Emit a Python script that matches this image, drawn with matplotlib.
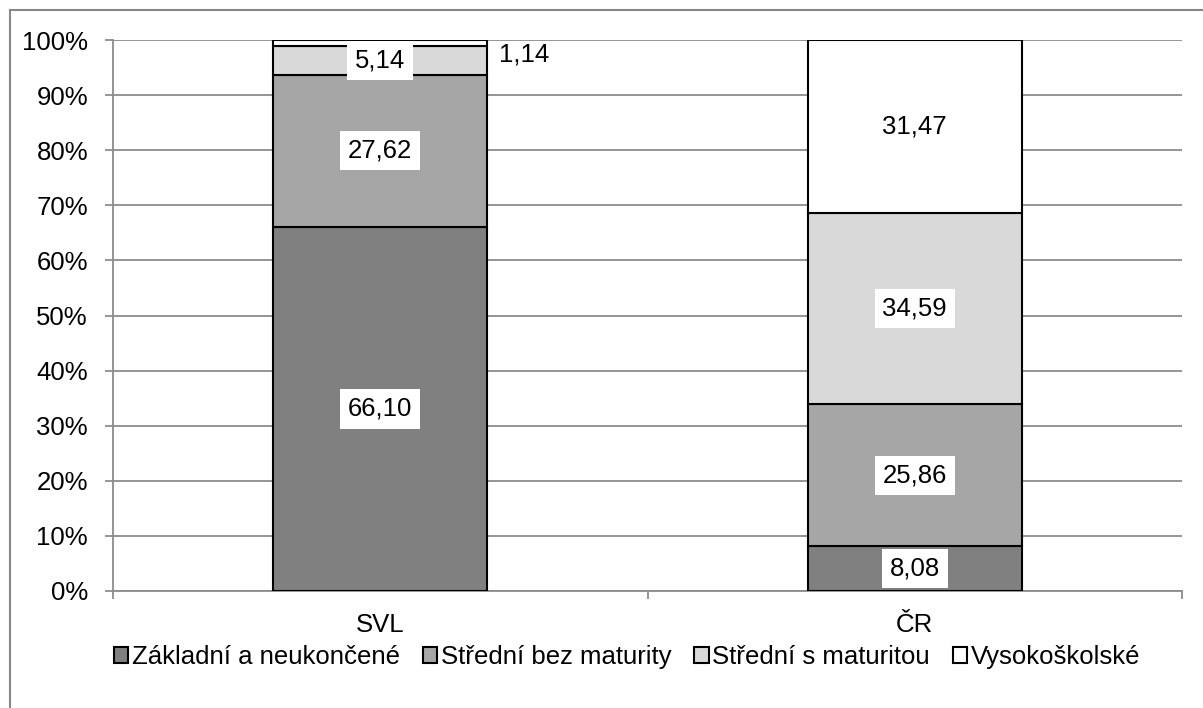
import matplotlib
matplotlib.use("Agg")
import matplotlib.pyplot as plt
from matplotlib.lines import Line2D
import numpy as np

plt.rcParams['font.family'] = ['Liberation Sans', 'DejaVu Sans']

categories = ["SVL", "ČR"]
series_names = ["Základní a neukončené", "Střední bez maturity", "Střední s maturitou", "Vysokoškolské"]
zakladni = [66.10, 8.08]
stredni_bez = [27.62, 25.86]
stredni_s = [5.14, 34.59]
vysokoskolske = [1.14, 31.47]
colors = ["#808080", "#a6a6a6", "#d9d9d9", "#ffffff"]
yticks = [0, 10, 20, 30, 40, 50, 60, 70, 80, 90, 100]

series = [zakladni, stredni_bez, stredni_s, vysokoskolske]
FS = 18.5

W, H = 1203, 708
fig = plt.figure(figsize=(W / 100, H / 100), dpi=100)
# outer frame: only top and left visible
fig.add_artist(Line2D([10 / W, 1.0], [1 - 10 / H, 1 - 10 / H], transform=fig.transFigure,
                      color="#888888", linewidth=1.5))
fig.add_artist(Line2D([10 / W, 10 / W], [0, 1 - 10 / H], transform=fig.transFigure,
                      color="#888888", linewidth=1.5))

ax = fig.add_axes([113 / W, 1 - 591 / H, (1182 - 113) / W, (591 - 40) / H])

x = np.arange(len(categories))
bottom = np.zeros(len(categories))
for vals, col, name in zip(series, colors, series_names):
    ax.bar(x, vals, width=0.4, bottom=bottom, color=col, edgecolor="black", linewidth=1.5,
           label=name, zorder=3)
    for i, v in enumerate(vals):
        txt = f"{v:.2f}".replace(".", ",")
        if v < 3:
            ax.text(x[i] + 0.27, 97.4, txt, ha="center", va="center", fontsize=FS, zorder=5)
        else:
            ax.text(x[i], bottom[i] + v / 2, txt, ha="center", va="center", fontsize=FS, zorder=5,
                    bbox=dict(boxstyle="square,pad=0.3", facecolor="white", edgecolor="none"))
    bottom += np.array(vals)

ax.set_xlim(-0.5, 1.5)
ax.set_ylim(0, 100)
ax.set_yticks(yticks)
ax.set_yticklabels([f"{t}%" for t in yticks], fontsize=FS)
ax.set_xticks(x)
ax.set_xticklabels(categories, fontsize=FS)
ax.yaxis.grid(True, color="#8c8c8c", linewidth=1.3, zorder=0)
ax.set_axisbelow(True)
for s in ["top", "right"]:
    ax.spines[s].set_visible(False)
for s in ["left", "bottom"]:
    ax.spines[s].set_color("#8c8c8c")
    ax.spines[s].set_linewidth(1.3)
ax.tick_params(axis="y", length=6, color="#8c8c8c", width=1.3, pad=12)
ax.tick_params(axis="x", length=0, pad=16)
ax.set_xticks([-0.5, 0.5, 1.5], minor=True)
ax.tick_params(axis="x", which="minor", length=6, color="#8c8c8c", width=1.3)

ax_h = (591 - 40) / H
ax.legend(loc="center", bbox_to_anchor=(0.481, -(657 - 591) / H / ax_h),
          ncol=4, frameon=False, fontsize=FS, handlelength=0.55, handleheight=0.55,
          handletextpad=0.15, columnspacing=0.9, borderaxespad=0, borderpad=0)

fig.savefig("out.png", dpi=100)
